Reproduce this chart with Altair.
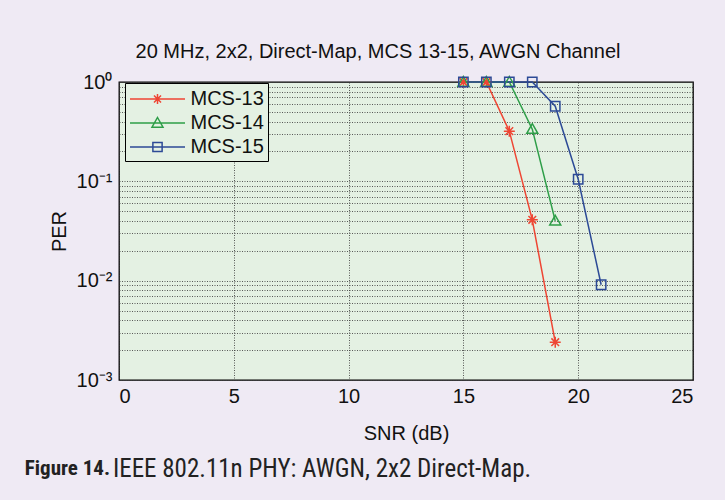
import altair as alt
import pandas as pd

# ---------------- data ----------------
series_names = ["MCS-13", "MCS-14", "MCS-15"]
snr_13 = [15, 16, 17, 18, 19]
per_13 = [1.0, 1.0, 0.32, 0.041, 0.0024]
snr_14 = [15, 16, 17, 18, 19]
per_14 = [1.0, 1.0, 1.0, 0.335, 0.04]
snr_15 = [15, 16, 17, 18, 19, 20, 21]
per_15 = [1.0, 1.0, 1.0, 1.0, 0.57, 0.105, 0.0091]

x_ticks = [0, 5, 10, 15, 20, 25]
y_major = [1, 0.1, 0.01, 0.001]
y_major_labels = ["10⁰", "10⁻¹", "10⁻²", "10⁻³"]
y_minor_mult = [2, 3, 4, 5, 6, 7, 8, 9]

title_text = "20 MHz, 2x2, Direct-Map, MCS 13-15, AWGN Channel"
caption_bold = "Figure 14."
caption_rest = "IEEE 802.11n PHY: AWGN, 2x2 Direct-Map."

# ---------------- styling ----------------
colors = ["#EE4634", "#2E9E48", "#2C4A96"]
marker_paths = [
    "M-1,0H1M0,-1V1M-0.7,-0.7L0.7,0.7M-0.7,0.7L0.7,-0.7",
    "M0,-1L1,0.75L-1,0.75Z",
    "M-0.85,-0.85H0.85V0.85H-0.85Z",
]
# legend symbols: a 55px line with the marker in its middle (unit = 11px)
legend_paths = [
    "M-2.5,0H2.5M0,-0.45V0.45M-0.32,-0.32L0.32,0.32M-0.32,0.32L0.32,-0.32",
    "M-2.5,0H2.5M0,-0.5L0.5,0.38L-0.5,0.38Z",
    "M-2.5,0H2.5M-0.42,-0.42H0.42V0.42H-0.42Z",
]
FONT = "Liberation Sans"
CAP_FONT = "Liberation Sans Narrow, Roboto Condensed, Liberation Sans"
PLOT_BG = "#E4F1E3"
PAGE_BG = "#EFEAF4"

rows = []
for name, xs, ys in zip(series_names, [snr_13, snr_14, snr_15], [per_13, per_14, per_15]):
    for xv, yv in zip(xs, ys):
        rows.append({"series": name, "snr": xv, "per": yv})
df = pd.DataFrame(rows)

y_all = sorted(set([round(k * d, 6) for d in [0.001, 0.01, 0.1] for k in [1] + y_minor_mult] + [1]))
label_expr = " : ".join(f"datum.value == {v} ? '{lab}'" for v, lab in zip(y_major, y_major_labels)) + " : ''"

x_enc = alt.X(
    "snr:Q",
    scale=alt.Scale(domain=[0, 25], nice=False),
    axis=alt.Axis(values=x_ticks, title="SNR (dB)", labelPadding=6, titleY=43),
)
y_enc = alt.Y(
    "per:Q",
    scale=alt.Scale(type="log", domain=[0.001, 1], nice=False),
    axis=alt.Axis(values=y_all, labelExpr=label_expr, title="PER", labelPadding=7,
                  titleX=-50, titleY=149),
)
color_scale = alt.Scale(domain=series_names, range=colors)

base = alt.Chart(df)

lines = base.mark_line(strokeWidth=1.5).encode(
    x=x_enc, y=y_enc,
    color=alt.Color("series:N", scale=color_scale, legend=None),
)

points = base.mark_point(filled=False, strokeWidth=1.5, size=121, opacity=1).encode(
    x=x_enc, y=y_enc,
    color=alt.Color("series:N", scale=color_scale, legend=None),
    shape=alt.Shape("series:N", scale=alt.Scale(domain=series_names, range=marker_paths), legend=None),
)

leg = alt.Legend(
    title=None, orient="none", legendX=6, legendY=1,
    strokeColor="black", fillColor=PLOT_BG, padding=4,
    labelFont=FONT, labelFontSize=20, labelColor="#111",
    symbolSize=484, symbolStrokeWidth=1.5, symbolOffset=16.5, labelOffset=21, rowPadding=2,
)
legend_layer = base.transform_filter("false").mark_point(filled=False, strokeWidth=1.5, opacity=1).encode(
    x=x_enc, y=y_enc,
    color=alt.Color("series:N", scale=color_scale, legend=leg),
    shape=alt.Shape("series:N", scale=alt.Scale(domain=series_names, range=legend_paths), legend=leg),
)

cap1 = alt.Chart(pd.DataFrame({"t": [caption_bold]})).mark_text(
    font=CAP_FONT, fontSize=21, fontWeight="bold", align="right", baseline="middle", color="#222"
).encode(x=alt.value(-9), y=alt.value(387), text="t:N")
cap2 = alt.Chart(pd.DataFrame({"t": [caption_rest]})).mark_text(
    font=CAP_FONT, fontSize=25, align="left", baseline="middle", color="#222"
).encode(x=alt.value(-6), y=alt.value(387), text="t:N")

chart = (
    alt.layer(lines, points, legend_layer, cap1, cap2)
    .resolve_scale(color="independent", shape="independent")
    .properties(
        width=574, height=298,
        title=alt.TitleParams(title_text, font=FONT, fontSize=20, fontWeight="normal",
                              color="#111", anchor="middle", offset=10, dx=-28),
        autosize=alt.AutoSizeParams(type="none"),
        padding={"left": 119, "top": 82, "right": 32, "bottom": 120},
        background=PAGE_BG,
    )
    .configure_view(fill=PLOT_BG, stroke="black", strokeWidth=1.3)
    .configure_axis(
        labelFont=FONT, labelFontSize=20, labelColor="#111",
        titleFont=FONT, titleFontSize=20, titleFontWeight="normal", titleColor="#111",
        grid=True, gridColor="#333333", gridDash=[1, 1.5], gridWidth=1, gridOpacity=0.8,
        ticks=False, tickSize=0, domain=False,
    )
)

chart.save("out.html", embed_options={"renderer": "svg", "actions": False})
